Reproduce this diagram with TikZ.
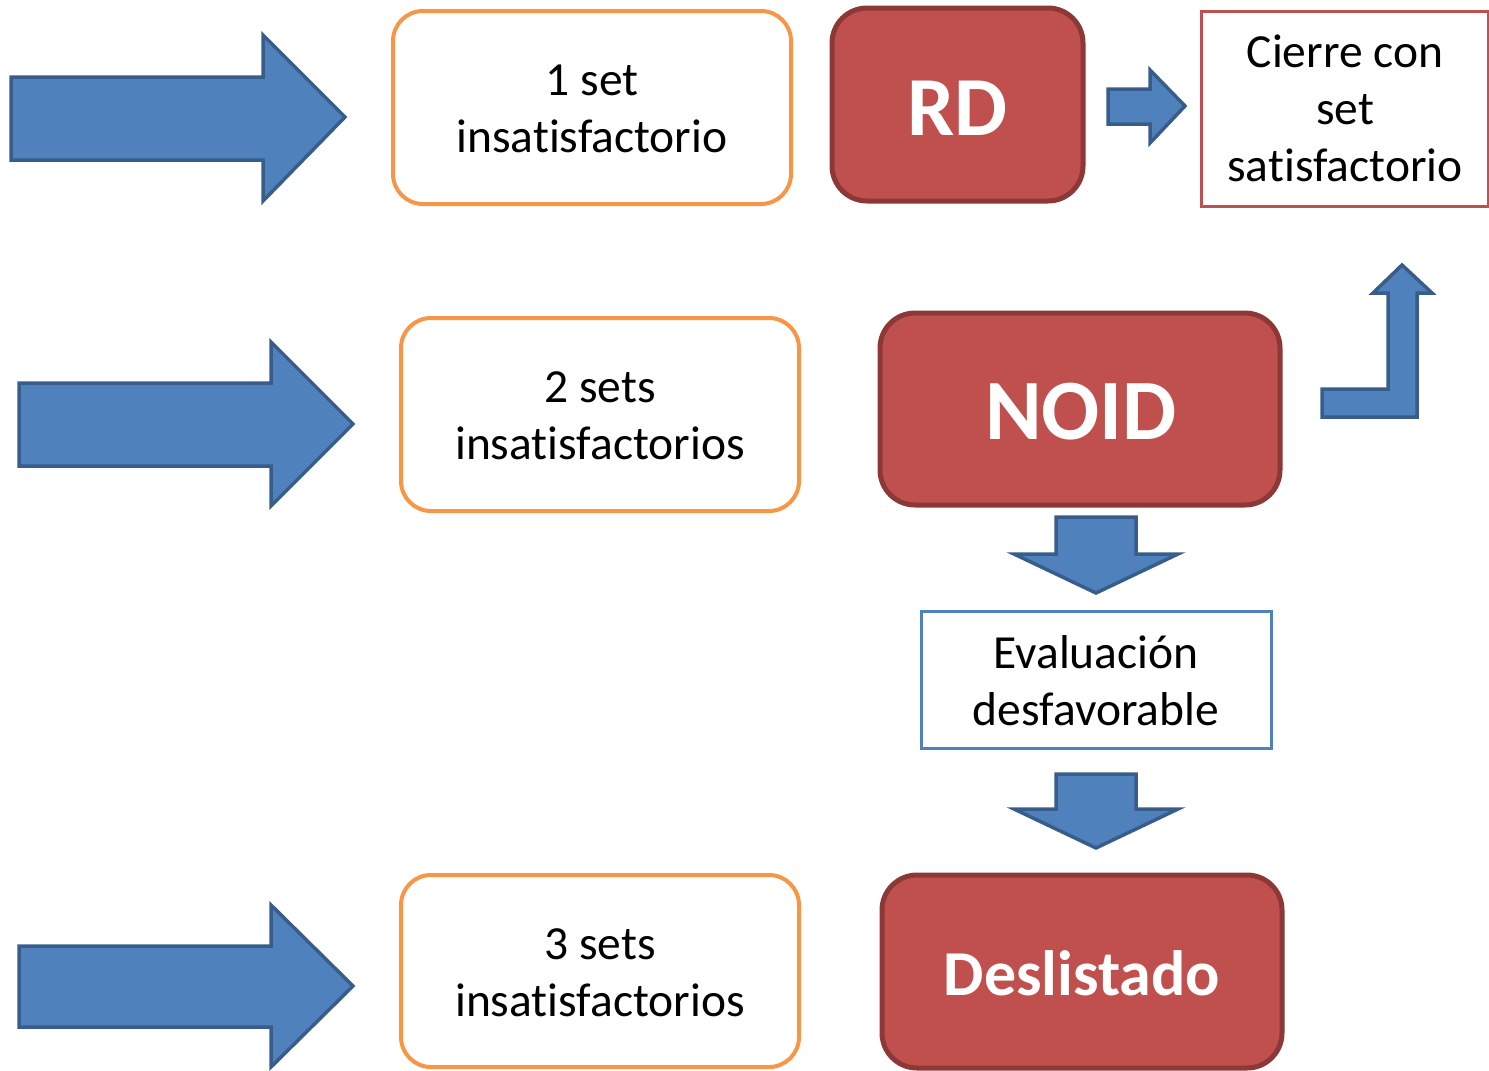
\documentclass[tikz,border=0pt]{standalone}
\usepackage{fontspec}
\setmainfont{Carlito}[Ligatures=NoCommon]
\definecolor{bfill}{HTML}{4F81BD}
\definecolor{bline}{HTML}{385D8A}
\definecolor{rfill}{HTML}{C0504D}
\definecolor{rline}{HTML}{8C3836}
\definecolor{orng}{HTML}{F79646}
\tikzset{
  blockarrow/.style={fill=bfill,draw=bline,line width=3.5pt,line join=miter},
  orbox/.style={draw=orng,line width=4pt,rounded corners=30pt,fill=white},
  redbox/.style={draw=rline,fill=rfill,line width=5pt,rounded corners=35pt},
  lbl/.style={align=center,font=\fontsize{47.5}{57}\selectfont,inner sep=0pt},
  biglbl/.style={text=white,font=\fontsize{84}{90}\selectfont\bfseries,inner sep=0pt},
}
\begin{document}
\begin{tikzpicture}[x=1pt,y=-1pt]
\useasboundingbox (0,0) rectangle (1489,1071);
% big right arrows
\draw[blockarrow] (11,77) -- (263,77) -- (263,35) -- (345,117) -- (263,201) -- (263,160) -- (11,160) -- cycle;
\draw[blockarrow] (19,383) -- (271,383) -- (271,342) -- (353,424) -- (271,506) -- (271,466) -- (19,466) -- cycle;
\draw[blockarrow] (19,946) -- (271,946) -- (271,905) -- (353,986) -- (271,1067) -- (271,1027) -- (19,1027) -- cycle;
% orange boxes
\draw[orbox] (393,11) rectangle (791,204);
\node[lbl] (b1) at (592,109) {1 set\\insatisfactorio};
\draw[orbox] (401,318) rectangle (799,511);
\node[lbl] (b2) at (600,416) {2 sets\\insatisfactorios};
\draw[orbox] (401,875) rectangle (799,1067);
\node[lbl] (b3) at (600,973) {3 sets\\insatisfactorios};
% red boxes
\draw[redbox] (832,8) rectangle (1083,201);
\node[biglbl] (rd) at (957.5,108) {RD};
\draw[redbox] (880,313) rectangle (1280,505);
\node[biglbl,font=\fontsize{86}{90}\selectfont\bfseries] (noid) at (1081,412) {NOID};
\draw[redbox] (882,875) rectangle (1282,1068);
\node[biglbl,font=\fontsize{64}{72}\selectfont\bfseries] (des) at (1082,973) {Deslistado};
% small right arrow
\draw[blockarrow] (1108,89) -- (1150,89) -- (1150,70) -- (1185,106) -- (1150,143) -- (1150,124) -- (1108,124) -- cycle;
% cierre box
\draw[draw=rfill,line width=3pt] (1201,11) rectangle (1488,206);
\node[lbl] (cierre) at (1345,108) {Cierre con\\set\\satisfactorio};
% bent arrow
\draw[blockarrow] (1322,389) -- (1388,389) -- (1388,293) -- (1373,293) -- (1402,265) -- (1432,293) -- (1417,293) -- (1417,417) -- (1322,417) -- cycle;
% down arrows
\draw[blockarrow] (1056,517) -- (1136,517) -- (1136,554) -- (1178,554) -- (1096,593) -- (1014,554) -- (1056,554) -- cycle;
\draw[blockarrow] (1056,774) -- (1136,774) -- (1136,809) -- (1178,809) -- (1096,848) -- (1014,809) -- (1056,809) -- cycle;
% evaluacion box
\draw[draw=bfill,line width=3pt] (921,611) rectangle (1271,748);
\node[lbl] (eval) at (1096,681) {Evaluación\\desfavorable};
\end{tikzpicture}
\end{document}
